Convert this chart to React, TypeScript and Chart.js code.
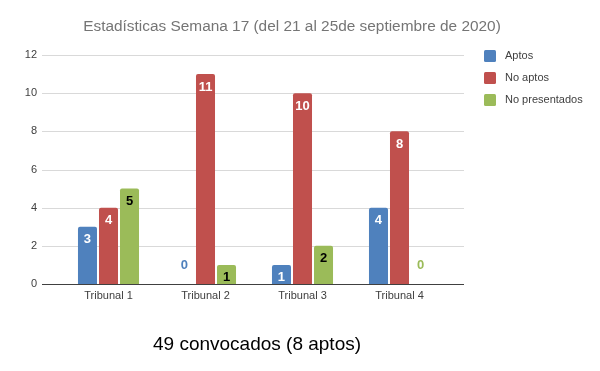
import React, { useEffect, useRef } from 'react';
import { Chart, registerables } from 'chart.js';
Chart.register(...registerables);

const categories = ['Tribunal 1', 'Tribunal 2', 'Tribunal 3', 'Tribunal 4'];
const aptos = [3, 0, 1, 4];
const noAptos = [4, 11, 10, 8];
const noPresentados = [5, 1, 2, 0];
const seriesNames = ['Aptos', 'No aptos', 'No presentados'];
const seriesColors = ['#4F81BD', '#C0504D', '#9BBB59'];
const labelColors = ['#FFFFFF', '#FFFFFF', '#000000'];
const yTicksMax = 12;
const yTicksStep = 2;
const titleText = 'Estadísticas Semana 17 (del 21 al 25de septiembre de 2020)';
const footerText = '49 convocados (8 aptos)';

const FONT = '"Liberation Sans", Arial, sans-serif';

const gridPlugin = {
  id: 'extGrid',
  beforeDatasetsDraw(chart: any) {
    const { ctx, chartArea, scales } = chart;
    const y = scales.y;
    ctx.save();
    ctx.strokeStyle = '#D9D9D9';
    ctx.lineWidth = 1;
    y.ticks.forEach((t: any) => {
      if (t.value === 0) return;
      const py = Math.round(y.getPixelForValue(t.value)) + 0.5;
      ctx.beginPath();
      ctx.moveTo(chartArea.left - 18, py);
      ctx.lineTo(chartArea.right + 16, py);
      ctx.stroke();
    });
    ctx.restore();
  },
  afterDatasetsDraw(chart: any) {
    const { ctx, chartArea, scales } = chart;
    const y = scales.y;
    ctx.save();
    ctx.strokeStyle = '#404040';
    ctx.lineWidth = 1;
    const py = Math.round(y.getPixelForValue(0)) + 0.5;
    ctx.beginPath();
    ctx.moveTo(chartArea.left - 18, py);
    ctx.lineTo(chartArea.right + 16, py);
    ctx.stroke();
    ctx.restore();
  },
};

const labelPlugin = {
  id: 'barLabels',
  afterDatasetsDraw(chart: any) {
    const { ctx } = chart;
    ctx.save();
    ctx.font = 'bold 13px ' + FONT;
    ctx.textAlign = 'center';
    ctx.textBaseline = 'middle';
    chart.data.datasets.forEach((ds: any, di: number) => {
      const meta = chart.getDatasetMeta(di);
      meta.data.forEach((el: any, i: number) => {
        const v = ds.data[i];
        if (v === 0) {
          ctx.fillStyle = seriesColors[di];
          ctx.fillText(String(v), el.x, el.base - 19);
        } else {
          ctx.fillStyle = labelColors[di];
          ctx.fillText(String(v), el.x, el.y + 13);
        }
      });
    });
    ctx.restore();
  },
};

const legendPlugin = {
  id: 'customLegend',
  afterDraw(chart: any) {
    const { ctx } = chart;
    ctx.save();
    ctx.font = '11px ' + FONT;
    ctx.textBaseline = 'middle';
    ctx.textAlign = 'left';
    chart.data.datasets.forEach((ds: any, i: number) => {
      const cy = 56 + i * 22;
      ctx.fillStyle = ds.backgroundColor;
      ctx.beginPath();
      (ctx as any).roundRect(484, cy - 6, 12, 12, 1.5);
      ctx.fill();
      ctx.fillStyle = '#404040';
      ctx.fillText(ds.label, 505, cy);
    });
    ctx.restore();
  },
};

const textPlugin = {
  id: 'texts',
  afterDraw(chart: any) {
    const { ctx } = chart;
    ctx.save();
    ctx.textAlign = 'center';
    ctx.textBaseline = 'middle';
    ctx.fillStyle = '#757575';
    ctx.font = '15.4px ' + FONT;
    ctx.fillText(titleText, 292, 27);
    ctx.fillStyle = '#000000';
    ctx.font = '19px ' + FONT;
    ctx.fillText(footerText, 257, 345);
    ctx.restore();
  },
};

export default function App() {
  const ref = useRef<HTMLCanvasElement | null>(null);
  useEffect(() => {
    if (!ref.current) return;
    const seriesData = [aptos, noAptos, noPresentados];
    const chart = new Chart(ref.current, {
      type: 'bar',
      data: {
        labels: categories,
        datasets: seriesNames.map((name, i) => ({
          label: name,
          data: seriesData[i],
          backgroundColor: seriesColors[i],
          borderRadius: 2,
          borderSkipped: 'bottom',
          categoryPercentage: 0.65,
          barPercentage: 0.905,
        })),
      },
      options: {
        animation: false,
        responsive: false,
        devicePixelRatio: 1,
        layout: { padding: { left: 0, right: 152, top: 55, bottom: 57 } },
        plugins: {
          legend: { display: false },
          title: { display: false },
          tooltip: { enabled: false },
        },
        scales: {
          x: {
            grid: { display: false, drawTicks: false },
            border: { display: false },
            ticks: { color: '#404040', font: { family: FONT, size: 11 }, padding: 5 },
            afterFit: (s: any) => { s.height = 30; },
          },
          y: {
            min: 0,
            max: yTicksMax,
            ticks: { stepSize: yTicksStep, color: '#404040', font: { family: FONT, size: 11 }, padding: 23 },
            grid: { display: false, drawTicks: false },
            border: { display: false },
            afterFit: (s: any) => { s.width = 60; },
          },
        },
      },
      plugins: [gridPlugin, labelPlugin, legendPlugin, textPlugin],
    });
    return () => chart.destroy();
  }, []);
  return (
    <div style={{ position: 'absolute', left: 0, top: 0, width: 600, height: 371, background: '#fff' }}>
      <canvas ref={ref} width={600} height={371} style={{ width: 600, height: 371 }} />
    </div>
  );
}
